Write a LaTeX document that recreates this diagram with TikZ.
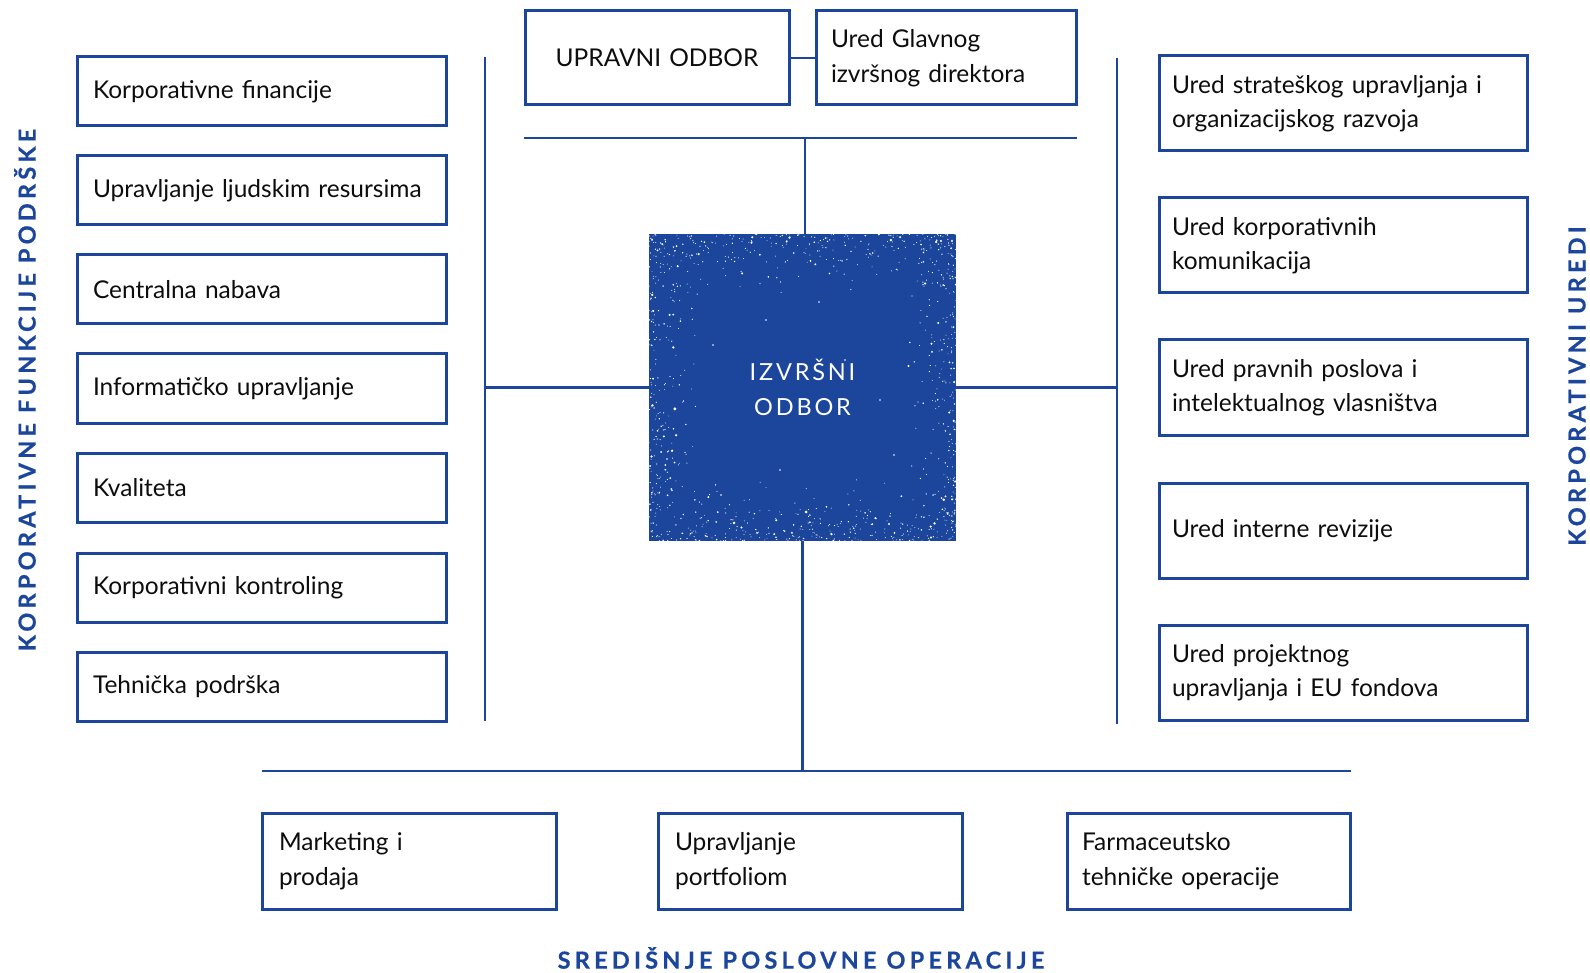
\documentclass[tikz,border=0pt]{standalone}
\usepackage{fontspec}
\setmainfont{Lato}
\definecolor{blu}{HTML}{1B469C}
\definecolor{txt}{HTML}{0D0D0D}
\begin{document}
\begin{tikzpicture}[x=1pt,y=-1pt,
  box/.style={draw=blu, line width=3pt, anchor=north west, inner ysep=0pt, outer sep=0pt, text=txt,
    font=\fontsize{24.5}{34.5}\selectfont, align=left},
  lbox/.style={box, minimum width=369pt, minimum height=69pt, text width=337pt, inner xsep=16pt},
  rbox/.style={box, minimum width=368pt, minimum height=95pt, text width=342pt, inner xsep=13pt},
  bbox/.style={box, minimum height=96pt, inner xsep=17pt},
  conn/.style={draw=blu, line width=2.8pt},
  lab/.style={text=blu, font=\bfseries\fontsize{23.5}{23.5}\selectfont\addfontfeatures{LetterSpace=18,FakeBold=0.6}}
]
\useasboundingbox (0,0) rectangle (1590,973);

% top
\node[box, minimum width=264pt, minimum height=94pt, text width=240pt, inner xsep=12pt, align=center] (uo) at (525,11) {UPRAVNI ODBOR};
\node[box, minimum width=260pt, minimum height=94pt, text width=230pt, inner xsep=15pt] (ug) at (816,11) {Ured Glavnog\\izvršnog direktora};
\draw[conn] (uo.east) -- (ug.west);

% center
\node[fill=blu, minimum width=307pt, minimum height=307pt, anchor=north west, inner sep=0pt, outer sep=0pt,
  text=white, align=center, font=\fontsize{23.5}{35}\selectfont\addfontfeatures{LetterSpace=12}] (io) at (649,234) {IZVRŠNI\\ODBOR};

\begin{scope}
\clip (io.north west) rectangle (io.south east);
\pgfmathsetseed{7}
\foreach \i in {1,...,260}{
  \pgfmathsetmacro\px{649+307*rnd}
  \pgfmathsetmacro\py{234+68*rnd*rnd}
  \pgfmathsetmacro\r{0.45+1.2*rnd*rnd*rnd}
  \fill[white] (\px,\py) circle[radius=\r pt];
}
\foreach \i in {1,...,300}{
  \pgfmathsetmacro\px{649+307*rnd}
  \pgfmathsetmacro\py{541-68*rnd*rnd}
  \pgfmathsetmacro\r{0.45+1.4*rnd*rnd*rnd}
  \fill[white] (\px,\py) circle[radius=\r pt];
}
\foreach \i in {1,...,230}{
  \pgfmathsetmacro\px{649+55*rnd*rnd}
  \pgfmathsetmacro\py{234+307*rnd}
  \pgfmathsetmacro\r{0.45+1.4*rnd*rnd*rnd}
  \fill[white] (\px,\py) circle[radius=\r pt];
}
\foreach \i in {1,...,230}{
  \pgfmathsetmacro\px{956-55*rnd*rnd}
  \pgfmathsetmacro\py{234+307*rnd}
  \pgfmathsetmacro\r{0.45+1.2*rnd*rnd*rnd}
  \fill[white] (\px,\py) circle[radius=\r pt];
}
\foreach \p in {(819,302),(766,320),(713,345),(880,400),(894,455),(721,495),(780,470),(845,360)}{
  \fill[white] \p circle[radius=0.9pt];
}
\end{scope}

% top connector
\coordinate (tl) at (524,138);
\coordinate (tr) at (1077,138);
\coordinate (tj) at (805,138);
\draw[conn] (tl) -- (tr);
\draw[conn] (tj) -- (tj |- io.north);

% left column
\node[lbox] (l1) at (77,57)  {Korporativne financije};
\node[lbox] (l2) at (77,156) {Upravljanje ljudskim resursima};
\node[lbox] (l3) at (77,255) {Centralna nabava};
\node[lbox] (l4) at (77,354) {Informatičko upravljanje};
\node[lbox] (l5) at (77,453) {Kvaliteta};
\node[lbox] (l6) at (77,553) {Korporativni kontroling};
\node[lbox] (l7) at (77,652) {Tehnička podrška};

\coordinate (lt) at (485,57);
\coordinate (lb) at (485,721);
\draw[conn] (lt) -- (lb);
\draw[conn] (io.west) -- (io.west -| lt);

% right column
\node[rbox] (r1) at (1159,56)  {Ured strateškog upravljanja i\\organizacijskog razvoja};
\node[rbox] (r2) at (1159,198) {Ured korporativnih\\komunikacija};
\node[rbox] (r3) at (1159,340) {Ured pravnih poslova i\\intelektualnog vlasništva};
\node[rbox] (r4) at (1159,483) {Ured interne revizije};
\node[rbox] (r5) at (1159,625) {Ured projektnog\\upravljanja i EU fondova};

\coordinate (rt) at (1117,58);
\coordinate (rb) at (1117,724);
\draw[conn] (rt) -- (rb);
\draw[conn] (io.east) -- (io.east -| rt);

% bottom
\coordinate (bl) at (262,771);
\coordinate (br) at (1351,771);
\draw[conn] (bl) -- (br);
\draw[conn] (io.south) -- (io.south |- bl);

\node[bbox, minimum width=294pt, text width=260pt] (b1) at (262,813) {Marketing i\\prodaja};
\node[bbox, minimum width=304pt, text width=270pt] (b2) at (658,813) {Upravljanje\\portfoliom};
\node[bbox, minimum width=283pt, text width=253pt, inner xsep=15pt] (b3) at (1067,813) {Farmaceutsko\\tehničke operacije};

% labels
\node[lab, rotate=90] (labl) at (25,390) {KORPORATIVNE FUNKCIJE PODRŠKE};
\node[lab, rotate=90] (labr) at (1577,386) {KORPORATIVNI UREDI};
\node[lab] (labb) at (801,958) {SREDIŠNJE POSLOVNE OPERACIJE};
\end{tikzpicture}
\end{document}
